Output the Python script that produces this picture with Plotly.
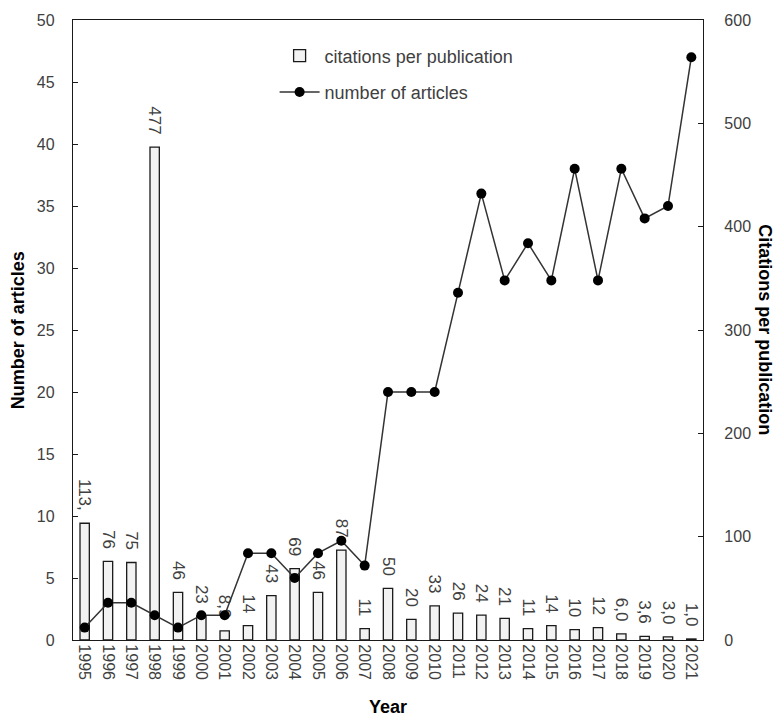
import plotly.graph_objects as go

years = [str(y) for y in range(1995, 2022)]
citations = [113, 76, 75, 477, 46, 23, 8.9, 14, 43, 69, 46, 87, 11, 50, 20, 33, 26, 24, 21, 11, 14, 10, 12, 6.0, 3.6, 3.0, 1.0]
citation_labels = ["113,", "76", "75", "477", "46", "23", "8,9", "14", "43", "69", "46", "87", "11", "50", "20",
                   "33", "26", "24", "21", "11", "14", "10", "12", "6,0", "3,6", "3,0", "1,0"]
articles = [1, 3, 3, 2, 1, 2, 2, 7, 7, 5, 7, 8, 6, 20, 20, 20, 28, 36, 29, 32, 29, 38, 29, 38, 34, 35, 47]

PAD = "\u00a0\u00a0"
TICKFONT = dict(family="Liberation Sans, Arial, sans-serif", size=16, color="#404040")
TITLEFONT = dict(family="Liberation Sans Narrow, Liberation Sans, Arial, sans-serif", size=18, color="#000000")

fig = go.Figure()
fig.add_trace(go.Bar(
    x=years, y=citations, name="citations per publication", yaxis="y", legendgroup="a",
    marker=dict(color="#f2f2f2", line=dict(color="#1a1a1a", width=1.3)),
    text=[t + PAD for t in citation_labels], textposition="outside", textangle=90,
    constraintext="none", cliponaxis=False,
    textfont=dict(family="Liberation Sans, Arial, sans-serif", size=17, color="#404040"),
))
fig.add_trace(go.Scatter(
    x=years, y=articles, name="number of articles", yaxis="y2", legendgroup="b",
    mode="lines+markers",
    line=dict(color="#333333", width=1.5),
    marker=dict(color="#000000", size=10),
))

fig.update_layout(
    width=774, height=710,
    margin=dict(l=65, r=79, t=12, b=78, autoexpand=False),
    plot_bgcolor="white", paper_bgcolor="white",
    bargap=0.6,
    showlegend=True,
    legend=dict(x=0.32, y=0.972, xanchor="left", yanchor="top",
                bgcolor="rgba(0,0,0,0)", font=dict(family="Liberation Sans, Arial, sans-serif", size=18, color="#404040"),
                tracegroupgap=10, itemwidth=40),
    xaxis=dict(type="category", range=[-0.5, 26.5], tickangle=90, tickfont=TICKFONT, showline=True,
               linecolor="#1a1a1a", linewidth=1.3, mirror=True, ticks="", showgrid=False, zeroline=False,
               automargin=False),
    yaxis=dict(side="right", range=[0, 600], dtick=100, tickfont=TICKFONT, showline=True,
               linecolor="#1a1a1a", linewidth=1.3, ticks="inside", ticklen=5, tickcolor="#1a1a1a",
               showgrid=False, zeroline=False, ticklabelstandoff=17, automargin=False),
    yaxis2=dict(side="left", overlaying="y", range=[0, 50], dtick=5, tickfont=TICKFONT, showline=True,
                linecolor="#1a1a1a", linewidth=1.3, ticks="inside", ticklen=5, tickcolor="#1a1a1a",
                showgrid=False, zeroline=False, ticklabelstandoff=14, automargin=False),
    annotations=[
        dict(text="<b>Year</b>", x=0.5, y=-0.108, xref="paper", yref="paper", showarrow=False,
             font=TITLEFONT, xanchor="center", yanchor="middle"),
        dict(text="<b>Number of articles</b>", x=-0.087, y=0.5, xref="paper", yref="paper", showarrow=False,
             font=TITLEFONT, textangle=-90, xanchor="center", yanchor="middle"),
        dict(text="<b>Citations per publication</b>", x=1.098, y=0.5, xref="paper", yref="paper", showarrow=False,
             font=TITLEFONT, textangle=90, xanchor="center", yanchor="middle"),
    ],
)

fig.write_html("out.html")
